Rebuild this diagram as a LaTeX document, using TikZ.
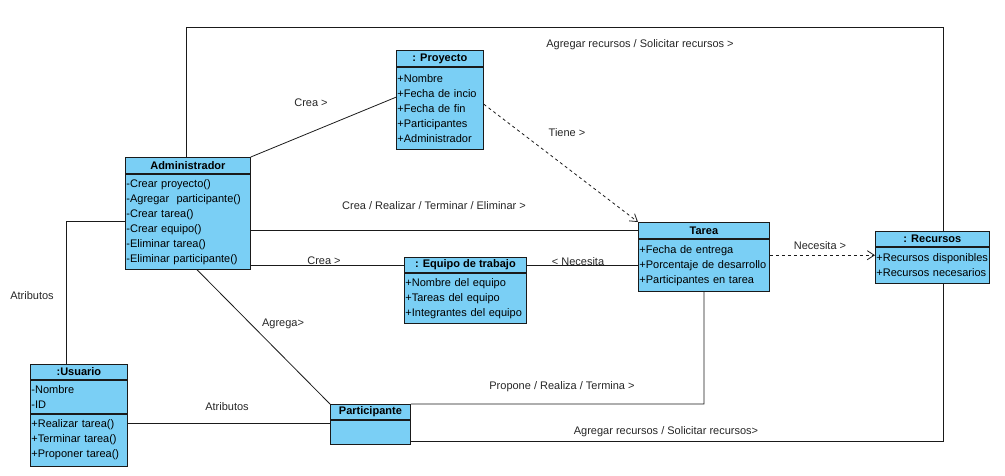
\documentclass[tikz,border=0pt]{standalone}
\usepackage{fontspec}
\setmainfont{Liberation Sans}
\usepackage{tikz}
\usetikzlibrary{arrows.meta, positioning}
\definecolor{classfill}{HTML}{7ACFF5}
\definecolor{lineblack}{HTML}{1A1A1A}

\begin{document}
\begin{tikzpicture}[x=1pt, y=-1pt,
    classhead/.style={
        draw=lineblack, fill=classfill, line width=0.8pt,
        anchor=north west, inner sep=0pt, minimum height=16pt,
        font=\fontsize{11}{15}\selectfont\bfseries
    },
    classbody/.style={
        draw=lineblack, fill=classfill, line width=0.8pt,
        anchor=north west, inner xsep=1pt, inner ysep=0pt, align=left,
        font=\fontsize{11}{15}\selectfont
    },
    assoc/.style={draw=lineblack, line width=0.8pt},
    depend/.style={draw=lineblack, line width=0.8pt, dashed,
        -{Straight Barb[length=7pt, width=9pt]}},
    lbl/.style={font=\fontsize{11}{13}\selectfont, text=black!85, inner sep=0pt}
]
\useasboundingbox (0,0) rectangle (1005,475);

% Classes
\node[classhead, minimum width=87pt, minimum height=16pt] (proyh) at (396,50) {: Proyecto};
\node[classbody, minimum width=87pt, text width=85pt, minimum height=82pt] (proyb) at (proyh.south west)
    {+Nombre\\+Fecha de incio\\+Fecha de fin\\+Participantes\\+Administrador\\[-3pt]};

\node[classhead, minimum width=125pt, minimum height=16pt] (admh) at (125,157) {Administrador};
\node[classbody, minimum width=125pt, text width=123pt, minimum height=95pt] (admb) at (admh.south west)
    {-Crear proyecto()\\-Agregar\ \ participante()\\-Crear tarea()\\-Crear equipo()\\-Eliminar tarea()\\-Eliminar participante()\\[-3pt]};

\node[classhead, minimum width=131pt, minimum height=16pt] (tarh) at (638,222) {Tarea};
\node[classbody, minimum width=131pt, text width=129pt, minimum height=52pt] (tarb) at (tarh.south west)
    {+Fecha de entrega\\+Porcentaje de desarrollo\\+Participantes en tarea\\[-3pt]};

\node[classhead, minimum width=114pt, minimum height=15pt] (rech) at (875,231) {: Recursos};
\node[classbody, minimum width=114pt, text width=112pt, minimum height=36pt] (recb) at (rech.south west)
    {+Recursos disponibles\\+Recursos necesarios\\[-3pt]};

\node[classhead, minimum width=122pt, minimum height=15pt] (eqh) at (404,257) {: Equipo de trabajo};
\node[classbody, minimum width=122pt, text width=120pt, minimum height=50pt] (eqb) at (eqh.south west)
    {+Nombre del equipo\\+Tareas del equipo\\+Integrantes del equipo\\[-3pt]};

\node[classhead, minimum width=97pt, minimum height=15pt] (usrh) at (30,364) {:Usuario};
\node[classbody, minimum width=97pt, text width=95pt, minimum height=33pt] (usra) at (usrh.south west)
    {-Nombre\\-ID\\[-3pt]};
\node[classbody, minimum width=97pt, text width=95pt, minimum height=52pt] (usro) at (usra.south west)
    {+Realizar tarea()\\+Terminar tarea()\\+Proponer tarea()\\[-3pt]};

\node[classhead, minimum width=80pt, minimum height=15pt] (parth) at (330,404) {Participante};
\node[classbody, minimum width=80pt, text width=78pt, minimum height=24pt] (partb) at (parth.south west) {};

% Bend points
\coordinate (topL) at (186,27);
\coordinate (topR) at (943,27);
\coordinate (usrbend) at (66,221);
\coordinate (tarbend) at (704,404);
\coordinate (recbend) at (943,441);
\coordinate (proyend) at ([yshift=11pt]proyb.west);
\coordinate (proystart) at ([yshift=4pt]proyb.east);
\coordinate (recend) at ([yshift=10pt]recb.west);
\coordinate (partend) at ([yshift=9pt]partb.west);

% Associations
\draw[assoc] (topL |- admh.north) -- (topL) -- (topR) -- (topR |- rech.north);
\draw[assoc] (admh.north east) -- (proyend);
\draw[assoc] (tarh.west -| admb.east) -- (tarh.west);
\draw[assoc] (eqh.west -| admb.east) -- (eqh.west);
\draw[assoc] (eqh.east) -- (eqh.east -| tarb.west);
\draw[assoc] ([xshift=9pt]admb.south) -- (parth.north west);
\draw[assoc] (usrbend -| admb.west) -- (usrbend) -- (usrbend |- usrh.north);
\draw[assoc] (partend -| usro.east) -- (partend);
\draw[assoc] (tarbend -| parth.east) -- (tarbend) -- (tarb.south);
\draw[assoc] (recbend -| partb.east) -- (recbend) -- (recbend |- recb.south);

% Dependencies
\draw[depend] (proystart) -- (tarh.north west);
\draw[depend] (recend -| tarb.east) -- (recend);

% Labels
\node[lbl] (ltop) at (640,45) {Agregar recursos / Solicitar recursos >};
\node[lbl] (lcrea1) at (311,103) {Crea >};
\node[lbl] (ltiene) at (567,133) {Tiene >};
\node[lbl] (lcrea2) at (434,206) {Crea / Realizar / Terminar / Eliminar >};
\node[lbl] (lcrea3) at (324,261) {Crea >};
\node[lbl] (lnec1) at (578,262) {< Necesita};
\node[lbl] (lnec2) at (820,246) {Necesita >};
\node[lbl] (lagrega) at (283,324) {Agrega>};
\node[lbl] (latr1) at (32,296) {Atributos};
\node[lbl] (latr2) at (227,407) {Atributos};
\node[lbl] (lprop) at (562,387) {Propone / Realiza / Termina >};
\node[lbl] (lbot) at (666,432) {Agregar recursos / Solicitar recursos>};

\end{tikzpicture}
\end{document}
